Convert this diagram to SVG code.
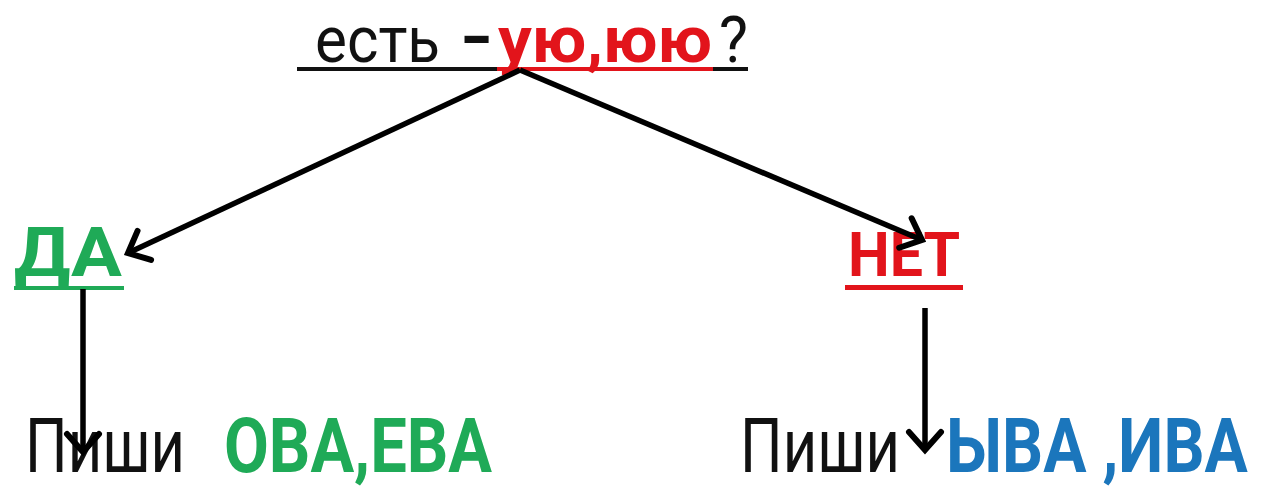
<svg xmlns="http://www.w3.org/2000/svg" width="1262" height="492" viewBox="0 0 1262 492">
  <style>
    text { font-family: Roboto, "Noto Sans", "Liberation Sans", sans-serif; }
    .reg { font-weight: 400; fill: #111111; }
    .bold { font-weight: 700; }
    .red { fill: #E2141B; }
    .green { fill: #1FAA57; }
    .blue { fill: #1B76BC; }
    .conn { stroke: #000000; stroke-width: 5.5; fill: none; }
  </style>
  <defs>
    <marker id="arrow" viewBox="-20 -20 40 40" markerWidth="40" markerHeight="40" markerUnits="userSpaceOnUse" refX="0" refY="0" orient="auto" overflow="visible">
      <path d="M-18,-16 L0,0 L-18,16" fill="none" stroke="#000000" stroke-width="6" stroke-linecap="round" stroke-linejoin="miter"/>
    </marker>
  </defs>
  <rect width="1262" height="492" fill="#ffffff"/>

  <g id="node-question">
    <text class="reg" x="315" y="62" font-size="64" textLength="125" lengthAdjust="spacingAndGlyphs">есть</text>
    <text class="bold" x="461" y="62" font-size="64" fill="#111111" textLength="30" lengthAdjust="spacingAndGlyphs">–</text>
    <text class="bold red" x="498" y="62" font-size="64" textLength="214" lengthAdjust="spacingAndGlyphs">ую,юю</text>
    <text class="reg" x="719" y="62" font-size="64" textLength="29" lengthAdjust="spacingAndGlyphs">?</text>
    <rect x="297" y="67" width="200" height="4" fill="#111111"/>
    <rect x="497" y="67" width="216" height="4" fill="#E2141B"/>
    <rect x="713" y="67" width="35" height="4" fill="#111111"/>
  </g>

  <g id="node-da">
    <text class="bold green" x="14" y="276" font-size="68" textLength="108" lengthAdjust="spacingAndGlyphs">ДА</text>
    <rect x="14" y="286" width="110" height="4" fill="#1FAA57"/>
  </g>

  <g id="node-net">
    <text class="bold red" x="848" y="276" font-size="62" textLength="112" lengthAdjust="spacingAndGlyphs">НЕТ</text>
    <rect x="845" y="285" width="118" height="5" fill="#E2141B"/>
  </g>

  <g id="node-left-result">
    <text class="reg" x="25" y="472" font-size="76" textLength="160" lengthAdjust="spacingAndGlyphs">Пиши</text>
    <text class="bold green" x="224" y="472" font-size="76" textLength="268" lengthAdjust="spacingAndGlyphs">ОВА,ЕВА</text>
  </g>

  <g id="node-right-result">
    <text class="reg" x="740" y="472" font-size="76" textLength="160" lengthAdjust="spacingAndGlyphs">Пиши</text>
    <g transform="translate(946,472) scale(0.86,1)">
      <text class="bold blue" x="0" y="0" font-size="76" textLength="351" lengthAdjust="spacingAndGlyphs">ЫВА ,ИВА</text>
    </g>
  </g>

  <g id="connectors">
    <line class="conn" x1="520" y1="70" x2="128" y2="253" marker-end="url(#arrow)"/>
    <line class="conn" x1="520" y1="70" x2="922" y2="240" marker-end="url(#arrow)"/>
    <line class="conn" x1="83" y1="289" x2="83" y2="452" marker-end="url(#arrow)"/>
    <line class="conn" x1="925" y1="308" x2="925" y2="450" marker-end="url(#arrow)"/>
  </g>
</svg>
